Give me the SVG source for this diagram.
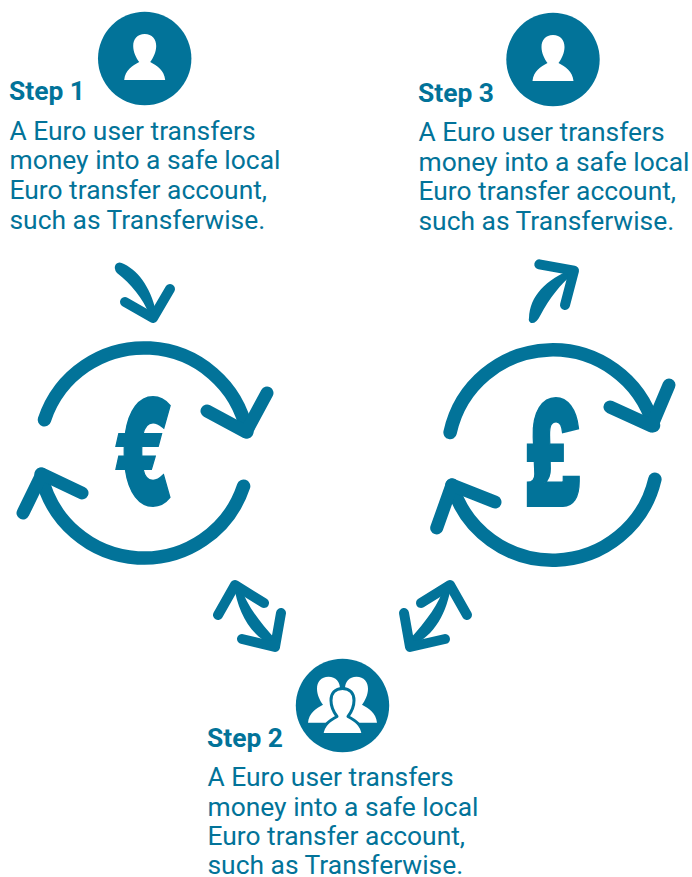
<svg xmlns="http://www.w3.org/2000/svg" width="692" height="877" viewBox="0 0 692 877">
<style>
text{font-family:Roboto,"Liberation Sans",sans-serif;fill:#027399}
.b{font-size:26.4px}
.h{font-size:26.4px;font-weight:700}
.c{font-family:Inter,"DejaVu Sans",sans-serif;font-weight:900;font-size:146px;stroke:#027399;stroke-width:2px}
.s{fill:none;stroke:#027399;stroke-linecap:round;stroke-linejoin:round}
.ring{stroke-width:13.500}
.head{stroke-width:13}
.sm{stroke-width:10}
.f{fill:#027399}
.w{fill:#fff}
.o{fill:#fff;stroke:#027399;stroke-width:3;stroke-linejoin:round}
</style>
<defs>
<path id="person" d="M-20.500 21.500C-19.500 11.500-12.500 7.500-5.500 3.500C-8.500-.5-11.500-6.500-11.500-12.500C-11.500-19.500-7.500-24.500 0-24.500C7.500-24.500 11.500-19.500 11.500-12.500C11.500-6.500 8.500-.5 5.500 3.500C12.500 7.500 19.500 11.500 20.500 21.500Z"/>
</defs>
<g id="step1"><circle class="f" cx="144.700" cy="58.500" r="46.700"/><use class="w" href="#person" x="144.700" y="58.500"/>
<text class="h" x="9" y="100">Step 1</text>
<text class="b" x="9.500" y="139.500">A Euro user transfers</text><text class="b" x="9.500" y="169">money into a safe local</text><text class="b" x="9.500" y="198.500">Euro transfer account,</text><text class="b" x="9.500" y="228.500">such as Transferwise.</text></g>
<g id="step3"><circle class="f" cx="553" cy="59.500" r="46.700"/><use class="w" href="#person" x="553" y="59.500"/>
<text class="h" x="418" y="101.500">Step 3</text>
<text class="b" x="418.500" y="141">A Euro user transfers</text><text class="b" x="418.500" y="170.500">money into a safe local</text><text class="b" x="418.500" y="200">Euro transfer account,</text><text class="b" x="418.500" y="229.500">such as Transferwise.</text></g>
<g id="step2"><circle class="f" cx="342.500" cy="705.500" r="46.700"/>
<use class="w" href="#person" x="328.500" y="701.200"/><use class="w" href="#person" x="356.500" y="701.200"/>
<use class="o" href="#person" x="342.500" y="713"/>
<text class="h" x="207" y="746.500">Step 2</text>
<text class="b" x="207.500" y="786">A Euro user transfers</text><text class="b" x="207.500" y="815.500">money into a safe local</text><text class="b" x="207.500" y="844.500">Euro transfer account,</text><text class="b" x="207.500" y="874">such as Transferwise.</text></g>
<g id="euro"><text class="c" transform="translate(144 505) scale(0.6 1)" text-anchor="middle">€</text>
<path class="s ring" d="M44.400 419.800A105 105 0 0 1 246.900 431.800"/><polyline class="s head" points="267,393 246,432 207,411"/>
<path class="s ring" d="M243.600 486.200A105 105 0 0 1 41.100 474.200"/><polyline class="s head" points="23,513 42,474 82,493"/></g>
<g id="pound"><text class="c" transform="translate(553 506) scale(0.6 1)" text-anchor="middle">£</text>
<path class="s ring" d="M450.100 432.500A105 105 0 0 1 653.500 425.500"/><polyline class="s head" points="669,385 651.700,426 610,407"/>
<path class="s ring" d="M654.900 479.200A105 105 0 0 1 452 485"/><polyline class="s head" points="436.700,528 452,485 495,502"/></g>
<g id="connectors">
<path class="f" d="M116 264Q119 261 124 264C140 272 152 290 157 316L150 316C143 298 131 284 117 273Q113 268 116 264Z"/><polyline class="s sm" points="125,302 153,318 170,289"/>
<path class="f" d="M529 318C530 296 545 280 574 268L574 273C560 285 550 297 540 316Q536 324 531 323Q528 321 529 318Z"/><polyline class="s sm" points="539.300,264.300 574,270.700 565,305"/>
<path class="f" d="M234 586L240 585C246 604 258 620 276 640L274 646C250 636 238 612 234 586Z"/><polyline class="s sm" points="218,615 235,585 264,603"/><polyline class="s sm" points="242,639 275,647 281,613"/>
<path class="f" d="M451 586L445 585C439 604 427 620 409 640L411 646C435 636 447 612 451 586Z"/><polyline class="s sm" points="467,615 450,585 421,603"/><polyline class="s sm" points="445,639 410,647 404,613"/>
</g>
</svg>
